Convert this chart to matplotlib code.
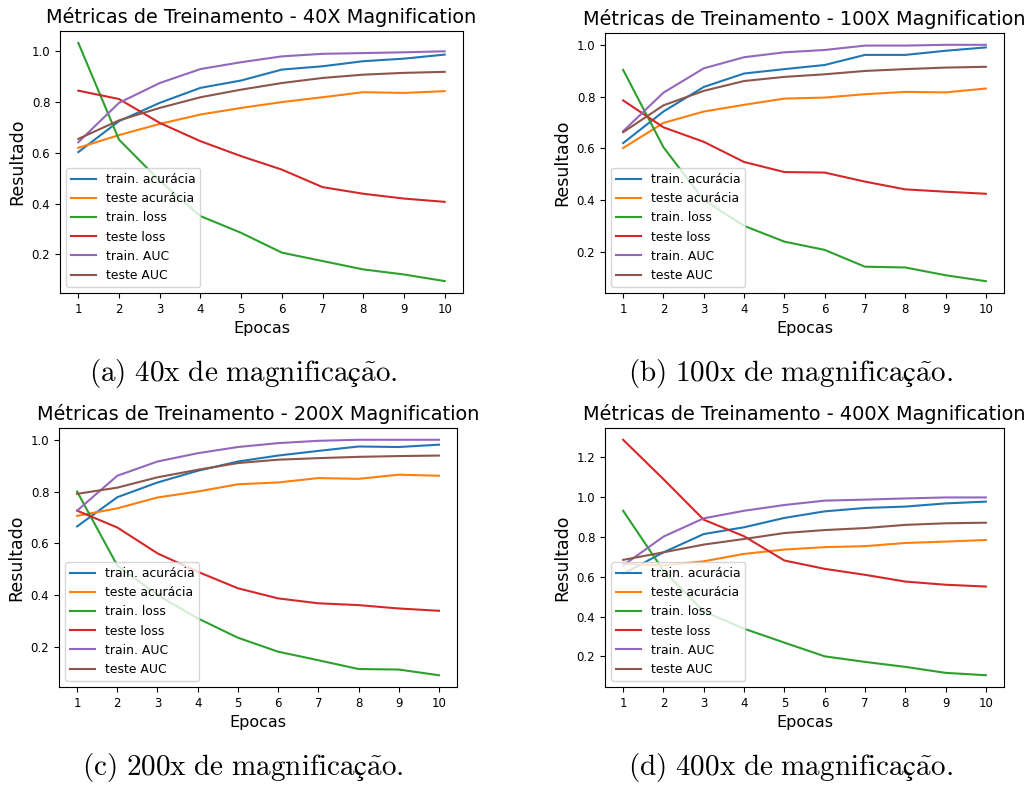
import numpy as np
import matplotlib
matplotlib.use('Agg')
import matplotlib.pyplot as plt

plt.rcParams['mathtext.fontset'] = 'cm'

epocas = list(range(1, 11))

# (a) 40X
a_train_acc = [0.603, 0.725, 0.797, 0.856, 0.885, 0.928, 0.941, 0.961, 0.971, 0.987]
a_teste_acc = [0.620, 0.670, 0.714, 0.751, 0.777, 0.800, 0.819, 0.839, 0.836, 0.843]
a_train_loss = [1.033, 0.652, 0.490, 0.351, 0.285, 0.207, 0.174, 0.141, 0.121, 0.095]
a_teste_loss = [0.845, 0.812, 0.718, 0.646, 0.587, 0.534, 0.465, 0.439, 0.420, 0.407]
a_train_auc = [0.642, 0.797, 0.875, 0.930, 0.957, 0.980, 0.990, 0.993, 0.996, 1.000]
a_teste_auc = [0.655, 0.728, 0.777, 0.819, 0.849, 0.875, 0.895, 0.908, 0.915, 0.919]

# (b) 100X
b_train_acc = [0.620, 0.742, 0.837, 0.889, 0.906, 0.922, 0.961, 0.961, 0.977, 0.990]
b_teste_acc = [0.601, 0.698, 0.742, 0.768, 0.792, 0.796, 0.809, 0.818, 0.816, 0.831]
b_train_loss = [0.903, 0.604, 0.400, 0.300, 0.239, 0.207, 0.142, 0.139, 0.109, 0.086]
b_teste_loss = [0.785, 0.681, 0.625, 0.547, 0.508, 0.506, 0.471, 0.441, 0.432, 0.424]
b_train_auc = [0.666, 0.815, 0.909, 0.952, 0.971, 0.980, 0.997, 0.997, 1.000, 1.000]
b_teste_auc = [0.662, 0.766, 0.822, 0.860, 0.876, 0.886, 0.899, 0.906, 0.912, 0.915]

# (c) 200X
c_train_acc = [0.665, 0.778, 0.835, 0.880, 0.916, 0.939, 0.957, 0.974, 0.972, 0.981]
c_teste_acc = [0.706, 0.735, 0.777, 0.800, 0.828, 0.835, 0.852, 0.849, 0.865, 0.861]
c_train_loss = [0.800, 0.514, 0.400, 0.310, 0.235, 0.181, 0.148, 0.114, 0.112, 0.090]
c_teste_loss = [0.726, 0.661, 0.561, 0.490, 0.426, 0.387, 0.368, 0.361, 0.348, 0.339]
c_train_auc = [0.726, 0.861, 0.916, 0.948, 0.972, 0.987, 0.996, 1.000, 1.000, 1.000]
c_teste_auc = [0.791, 0.815, 0.855, 0.884, 0.910, 0.923, 0.929, 0.934, 0.937, 0.939]

# (d) 400X
d_train_acc = [0.615, 0.723, 0.815, 0.849, 0.896, 0.929, 0.946, 0.953, 0.969, 0.978]
d_teste_acc = [0.665, 0.657, 0.678, 0.715, 0.737, 0.749, 0.754, 0.770, 0.777, 0.785]
d_train_loss = [0.932, 0.631, 0.426, 0.339, 0.269, 0.200, 0.172, 0.147, 0.117, 0.105]
d_teste_loss = [1.289, 1.091, 0.887, 0.804, 0.682, 0.640, 0.610, 0.576, 0.560, 0.551]
d_train_auc = [0.657, 0.802, 0.894, 0.932, 0.961, 0.983, 0.988, 0.994, 0.999, 0.999]
d_teste_auc = [0.685, 0.723, 0.762, 0.790, 0.820, 0.835, 0.845, 0.861, 0.869, 0.872]

nomes = ['train. acurácia', 'teste acurácia', 'train. loss', 'teste loss',
         'train. AUC', 'teste AUC']
mags = ['40X', '100X', '200X', '400X']
letras = ['a', 'b', 'c', 'd']
todos = [
  [a_train_acc, a_teste_acc, a_train_loss, a_teste_loss, a_train_auc, a_teste_auc],
  [b_train_acc, b_teste_acc, b_train_loss, b_teste_loss, b_train_auc, b_teste_auc],
  [c_train_acc, c_teste_acc, c_train_loss, c_teste_loss, c_train_auc, c_teste_auc],
  [d_train_acc, d_teste_acc, d_train_loss, d_teste_loss, d_train_auc, d_teste_auc],
]

W, H = 1029, 787
fig = plt.figure(figsize=(W/100, H/100), dpi=100)

# axes boxes in pixels: left, top, right, bottom
boxes = [(60, 31, 463, 293), (605, 33, 1004, 293),
         (59, 428, 457, 687), (605, 428, 1004, 687)]
cap_pos = [(243, 373), (790, 373), (243, 768), (790, 768)]

for i in range(4):
  l, t, r, b = boxes[i]
  ax = fig.add_axes([l/W, 1 - b/H, (r - l)/W, (b - t)/H])
  for serie, nome in zip(todos[i], nomes):
    ax.plot(epocas, serie, label=nome, linewidth=1.5)
  ax.set_xticks(epocas)
  ax.tick_params(labelsize=8.5)
  ax.set_title('Métricas de Treinamento - ' + mags[i] + ' Magnification', fontsize=13.9)
  ax.set_xlabel('Epocas', fontsize=11.5)
  ax.set_ylabel('Resultado', fontsize=12.5)
  ax.legend(loc='lower left', fontsize=8.9)
  # legenda da subfigura em estilo LaTeX
  mag = mags[i][:-1] + 'x'
  cap = (r'$\mathrm{(' + letras[i] + r')\ ' + mag +
         r'\ de\ magnifica}\mathrm{ç}\tilde{\mathrm{a}}\mathrm{o.}$')
  cx, cy = cap_pos[i]
  fig.text(cx/W, 1 - cy/H, cap, ha='center', va='center', fontsize=21)

fig.savefig('out.png', dpi=100)
